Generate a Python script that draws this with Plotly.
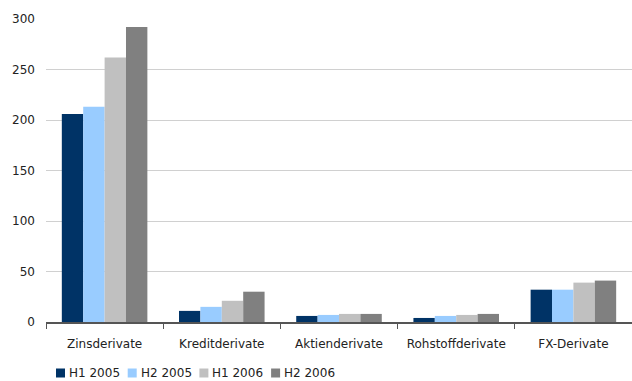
import plotly.graph_objects as go

categories = ["Zinsderivate", "Kreditderivate", "Aktienderivate", "Rohstoffderivate", "FX-Derivate"]
series_names = ["H1 2005", "H2 2005", "H1 2006", "H2 2006"]
h1_2005 = [206, 11, 6, 4, 32]
h2_2005 = [213, 15, 7, 6, 32]
h1_2006 = [262, 21, 8, 7, 39]
h2_2006 = [292, 30, 8, 8, 41]
y_ticks = [0, 50, 100, 150, 200, 250, 300]

series_values = [h1_2005, h2_2005, h1_2006, h2_2006]
colors = ["#003366", "#99ccff", "#c0c0c0", "#808080"]

FONT = "DejaVu Sans"
W, H = 632, 381
ML, MR, MT, MB = 46, 0, 19, 59

fig = go.Figure()
for name, vals, col in zip(series_names, series_values, colors):
    fig.add_trace(go.Bar(name=name, x=categories, y=vals, marker_color=col,
                         marker_line_width=0, showlegend=False))

# Legend row below the plot: small square swatch followed by series name
plot_w = W - ML - MR
plot_h = H - MT - MB
shapes = []
annotations = []
x0_px = 56
step_px = 71.7
sq = 9
legend_cy = 373
for i, (name, col) in enumerate(zip(series_names, colors)):
    sx = x0_px + i * step_px
    shapes.append(dict(type="rect", xref="paper", yref="paper",
                       x0=(sx - ML) / plot_w, x1=(sx + sq - ML) / plot_w,
                       y0=(H - MB - (legend_cy + sq / 2)) / plot_h,
                       y1=(H - MB - (legend_cy - sq / 2)) / plot_h,
                       fillcolor=col, line_width=0))
    annotations.append(dict(xref="paper", yref="paper", x=(sx + sq + 2 - ML) / plot_w,
                            y=(H - MB - legend_cy) / plot_h, text=name, showarrow=False,
                            xanchor="left", yanchor="middle",
                            font=dict(family=FONT, size=12, color="#222222")))

fig.update_layout(
    width=W, height=H,
    margin=dict(l=ML, r=MR, t=MT, b=MB, pad=0),
    paper_bgcolor="white", plot_bgcolor="white",
    barmode="group", bargap=0.27, bargroupgap=0,
    font=dict(family=FONT, size=12, color="#222222"),
    shapes=shapes, annotations=annotations,
    showlegend=False,
)
fig.update_xaxes(
    type="category", showgrid=False, showline=True, linecolor="#555555", linewidth=2,
    ticks="outside", tickson="boundaries", ticklen=5, tickcolor="#555555", tickwidth=1,
    ticklabelstandoff=10, tickfont=dict(family=FONT, size=12, color="#222222"),
)
fig.update_yaxes(
    range=[0, 300], tickvals=y_ticks, showgrid=True, gridcolor="#d0d0d0", gridwidth=1,
    showline=False, zeroline=False, ticks="", ticklabelstandoff=10,
    tickfont=dict(family=FONT, size=12, color="#222222"),
)

fig.write_html("out.html")
